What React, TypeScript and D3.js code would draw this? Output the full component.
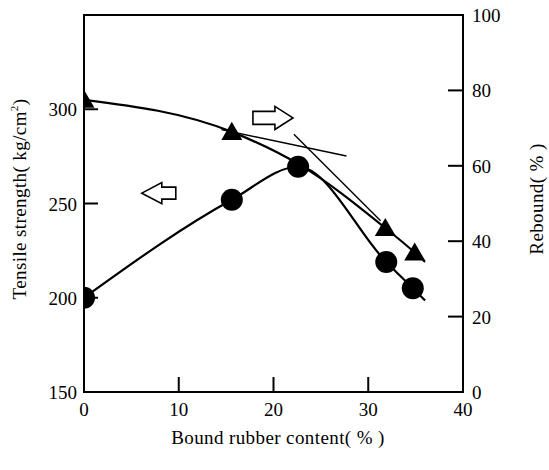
import * as d3 from 'd3'

// measured points
const boundRubber = [0, 15.6, 22.6, 31.9, 34.7]
const tensile = [200, 252, 269.5, 219, 205]
const reboundX = [0, 15.6, 31.8, 34.9]
const rebound = [77.5, 69, 43.5, 37]

// fitted curves as drawn in the figure
const tensileCurveX = [0, 15.6, 22.6, 31.9, 34.7, 36]
const tensileCurveY = [200, 252, 269.5, 219, 205, 198.5]
const reboundCurveX = [0, 15.6, 22.6, 31.8, 34.9, 36]
const reboundCurveY = [77.5, 69, 60.5, 43.5, 37, 34.5]

// thin tangent lines on the rebound curve
const tangentX = [[14.5, 27.7], [22.15, 31.3]]
const tangentY = [[69.6, 62.6], [68.4, 45.4]]

const xTicks = [0, 10, 20, 30, 40]
const leftTicks = [150, 200, 250, 300]
const rightTicks = [0, 20, 40, 60, 80, 100]

const W = 549
const H = 470
const margin = { top: 15, right: 86, bottom: 78, left: 84 }
const serif = {
  fontFamily: "'Liberation Serif', 'Times New Roman', Times, 'DejaVu Serif', serif",
}

export default function App() {
  const x = d3.scaleLinear().domain([0, 40]).range([margin.left, W - margin.right])
  const yL = d3.scaleLinear().domain([150, 350]).range([H - margin.bottom, margin.top])
  const yR = d3.scaleLinear().domain([0, 100]).range([H - margin.bottom, margin.top])
  const x0 = x(0), x1 = x(40), y0 = yL(150), y1 = yL(350)

  const line = d3.line<[number, number]>().curve(d3.curveMonotoneX)
  const tensilePath = line(tensileCurveX.map((v, i) => [x(v), yL(tensileCurveY[i])]))
  const reboundPath = line(reboundCurveX.map((v, i) => [x(v), yR(reboundCurveY[i])]))

  const tri = d3.symbol().type(d3.symbolTriangle).size(190)()

  // open arrows: left one points to tensile axis, right one to rebound axis
  const la = [x(6.1), yL(255.5)]
  const ra = [x(22.05), yR(72.7)]
  const leftArrow = `M${la[0]},${la[1]} l20,-10.5 v4.5 h14 v12 h-14 v4.5 Z`
  const rightArrow = `M${ra[0]},${ra[1]} l-18,-11.5 v5 h-22 v13 h22 v5 Z`

  return (
    <svg width={W} height={H} style={{ position: 'absolute', left: 0, top: 0, background: '#fff' }}>
      <defs>
        <clipPath id="plot">
          <rect x={x0} y={y1} width={x1 - x0} height={y0 - y1} />
        </clipPath>
      </defs>

      {/* frame */}
      <rect x={x0} y={y1} width={x1 - x0} height={y0 - y1} fill="none" stroke="#000" strokeWidth={2} />

      {/* ticks */}
      {xTicks.slice(1, -1).map(t => (
        <line key={'xt' + t} x1={x(t)} x2={x(t)} y1={y0} y2={y0 - 15} stroke="#000" strokeWidth={2} />
      ))}
      {leftTicks.slice(1).map(t => (
        <line key={'lt' + t} x1={x0} x2={x0 + 14} y1={yL(t)} y2={yL(t)} stroke="#000" strokeWidth={2} />
      ))}
      {rightTicks.slice(1, -1).map(t => (
        <line key={'rt' + t} x1={x1} x2={x1 - 15} y1={yR(t)} y2={yR(t)} stroke="#000" strokeWidth={2} />
      ))}

      {/* tick labels */}
      <g style={{ ...serif, fontSize: 19 }} fill="#000">
        {xTicks.map(t => (
          <text key={'xl' + t} x={x(t)} y={y0 + 24} textAnchor="middle">{t}</text>
        ))}
        {leftTicks.map(t => (
          <text key={'ll' + t} x={x0 - 7} y={yL(t) + 7} textAnchor="end">{t}</text>
        ))}
        {rightTicks.map(t => (
          <text key={'rl' + t} x={x1 + 9} y={yR(t) + 7}>{t}</text>
        ))}
      </g>

      {/* axis titles */}
      <g style={{ ...serif, fontSize: 19, letterSpacing: 0.4 }} fill="#000">
        <text x={278} y={444} textAnchor="middle">Bound rubber content( % )</text>
        <text transform={`translate(26,${199}) rotate(-90)`} textAnchor="middle">
          Tensile strength( kg/cm<tspan fontSize={11} dy={-8}>2</tspan><tspan dy={8}>)</tspan>
        </text>
        <text transform={`translate(543,${199}) rotate(-90)`} textAnchor="middle">Rebound( % )</text>
      </g>

      <g clipPath="url(#plot)">
        {/* tangents */}
        {tangentX.map((tx, i) => (
          <line key={'tg' + i} x1={x(tx[0])} y1={yR(tangentY[i][0])} x2={x(tx[1])} y2={yR(tangentY[i][1])}
            stroke="#000" strokeWidth={1.4} />
        ))}
        <path d={reboundPath ?? ''} fill="none" stroke="#000" strokeWidth={2.2} />
        <path d={tensilePath ?? ''} fill="none" stroke="#000" strokeWidth={2.2} />

        {boundRubber.map((v, i) => (
          <circle key={'c' + i} cx={x(v)} cy={yL(tensile[i])} r={11} fill="#000" />
        ))}
        {reboundX.map((v, i) => (
          <path key={'t' + i} d={tri ?? ''} transform={`translate(${x(v)},${yR(rebound[i]) + 2})`} fill="#000" />
        ))}
      </g>

      <path d={leftArrow} fill="#fff" stroke="#000" strokeWidth={1.6} strokeLinejoin="miter" />
      <path d={rightArrow} fill="#fff" stroke="#000" strokeWidth={1.6} strokeLinejoin="miter" />
    </svg>
  )
}
